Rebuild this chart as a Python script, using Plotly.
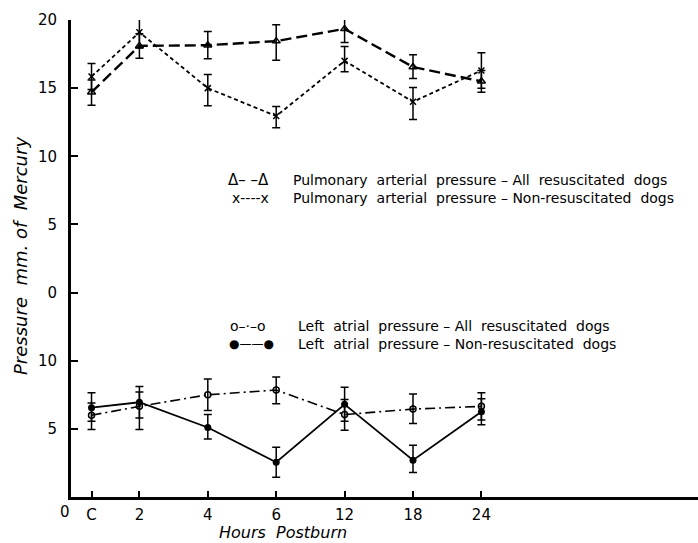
import plotly.graph_objects as go

# ---------------- data ----------------
hours = ["C", "2", "4", "6", "12", "18", "24"]

# Pulmonary arterial pressure (upper panel, mm Hg)
pa_resus = [14.7, 18.1, 18.15, 18.45, 19.35, 16.55, 15.5]
pa_resus_hi = [0.9, 0.9, 1.0, 1.2, 0.95, 0.9, 0.8]
pa_resus_lo = [0.95, 0.9, 1.0, 1.4, 1.0, 0.85, 0.8]

pa_nonres = [15.85, 19.1, 15.0, 12.95, 17.0, 14.0, 16.3]
pa_nonres_hi = [0.95, 1.15, 1.0, 0.7, 1.05, 1.05, 1.3]
pa_nonres_lo = [0.95, 1.15, 1.3, 0.85, 0.8, 1.3, 1.3]

# Left atrial pressure (lower panel, mm Hg)
la_resus = [6.0, 6.65, 7.5, 7.85, 6.05, 6.45, 6.65]
la_resus_hi = [0.9, 1.05, 1.15, 0.95, 1.1, 1.1, 1.0]
la_resus_lo = [1.05, 1.7, 1.15, 1.0, 1.15, 1.05, 1.0]

la_nonres = [6.55, 6.95, 5.1, 2.55, 6.8, 2.7, 6.25]
la_nonres_hi = [1.1, 1.15, 0.95, 1.1, 1.25, 1.1, 0.95]
la_nonres_lo = [1.0, 1.15, 0.85, 1.1, 1.25, 0.9, 0.95]

y_tick_text = ["5", "10", "0", "5", "10", "15", "20"]

# ---------------- axis layout (broken scale) ----------------
hour_pos = [0.3, 1, 2, 3, 4, 5, 6]          # x position of each category
UPPER_OFFSET = 15                            # upper panel drawn above lower one
y_tick_vals = [5, 10, 15, 20, 25, 30, 35]

W, H = 698, 543
ML, MR, MT, MB = 71, 0, 20, 46
PW, PH = W - ML - MR, H - MT - MB
X_UNIT = 68.4
X_MAX = PW / X_UNIT
Y_MIN, Y_MAX = 0, 35

FONT = "DejaVu Sans"


def px_to_paper(px, py):
    return (px - ML) / PW, (H - MB - py) / PH


def upper(vals):
    return [v + UPPER_OFFSET for v in vals]


def err(hi, lo):
    return dict(type="data", array=hi, arrayminus=lo, symmetric=False,
                color="black", thickness=1.5, width=4)


fig = go.Figure()

fig.add_trace(go.Scatter(
    x=hour_pos, y=upper(pa_resus), mode="lines+markers",
    line=dict(color="black", width=2.4, dash="11px,5px"),
    marker=dict(symbol="triangle-up-open", size=7, color="black",
                line=dict(width=1.5, color="black")),
    error_y=err(pa_resus_hi, pa_resus_lo),
    name="Pulmonary arterial pressure - All resuscitated dogs"))

fig.add_trace(go.Scatter(
    x=hour_pos, y=upper(pa_nonres), mode="lines+markers",
    line=dict(color="black", width=1.8, dash="4px,3px"),
    marker=dict(symbol="x-thin", size=6, color="black",
                line=dict(width=1.5, color="black")),
    error_y=err(pa_nonres_hi, pa_nonres_lo),
    name="Pulmonary arterial pressure - Non-resuscitated dogs"))

fig.add_trace(go.Scatter(
    x=hour_pos, y=la_resus, mode="lines+markers",
    line=dict(color="black", width=1.6, dash="10px,4px,2px,4px"),
    marker=dict(symbol="circle-open", size=6, color="black",
                line=dict(width=1.5, color="black")),
    error_y=err(la_resus_hi, la_resus_lo),
    name="Left atrial pressure - All resuscitated dogs"))

fig.add_trace(go.Scatter(
    x=hour_pos, y=la_nonres, mode="lines+markers",
    line=dict(color="black", width=1.8),
    marker=dict(symbol="circle", size=7, color="black"),
    error_y=err(la_nonres_hi, la_nonres_lo),
    name="Left atrial pressure - Non-resuscitated dogs"))

annotations = []


def add_text(px, py, text, size=13, xanchor="left", italic=False, angle=0):
    x, y = px_to_paper(px, py)
    t = f"<i>{text}</i>" if italic else text
    annotations.append(dict(x=x, y=y, xref="paper", yref="paper", text=t,
                            showarrow=False, xanchor=xanchor, yanchor="middle",
                            textangle=angle,
                            font=dict(family=FONT, size=size, color="black")))


# legend (hand-lettered style)
add_text(226, 180, "Δ– –Δ", 15)
add_text(291, 180, "Pulmonary  arterial  pressure – All  resuscitated  dogs", 14)
add_text(230, 198, "x----x", 14)
add_text(291, 198, "Pulmonary  arterial  pressure – Non-resuscitated  dogs", 14)
add_text(228, 326, "o–·–o", 14)
add_text(296, 326, "Left  atrial  pressure – All  resuscitated  dogs", 14)
add_text(227, 344, "●——●", 12)
add_text(296, 344, "Left  atrial  pressure – Non-resuscitated  dogs", 14)

# origin label, axis titles
add_text(65, 512, "0", 15, xanchor="center")
add_text(283, 532, "Hours  Postburn", 16, xanchor="center", italic=True)
add_text(21, 256, "Pressure  mm. of  Mercury", 18, xanchor="center", italic=True, angle=-90)

fig.update_layout(
    width=W, height=H,
    margin=dict(l=ML, r=MR, t=MT, b=MB, pad=0),
    paper_bgcolor="white", plot_bgcolor="white",
    showlegend=False,
    annotations=annotations,
    font=dict(family=FONT, color="black"),
    xaxis=dict(range=[0, X_MAX], showgrid=False, zeroline=False,
               showline=True, linecolor="black", linewidth=3,
               ticks="inside", ticklen=6, tickwidth=2, tickcolor="black",
               tickvals=hour_pos, ticktext=hours,
               ticklabelstandoff=2,
               tickfont=dict(size=15, family=FONT)),
    yaxis=dict(range=[Y_MIN, Y_MAX], showgrid=False, zeroline=False,
               showline=True, linecolor="black", linewidth=3,
               ticks="inside", ticklen=7, tickwidth=2, tickcolor="black",
               tickvals=y_tick_vals, ticktext=y_tick_text,
               ticklabelstandoff=8,
               tickfont=dict(size=15, family=FONT)),
)

fig.write_html("out.html")
